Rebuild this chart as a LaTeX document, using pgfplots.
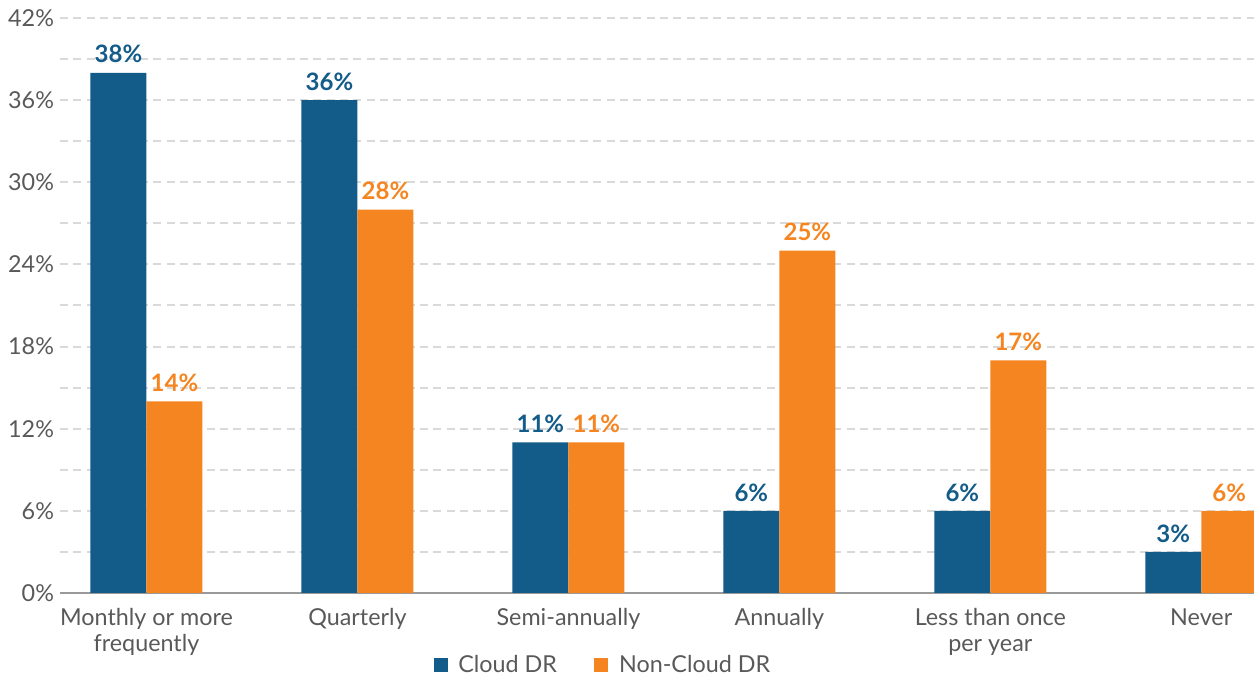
\documentclass[border=0pt]{standalone}
\usepackage{fontspec}
\setmainfont{Lato}
\usepackage{pgfplots}
\pgfplotsset{compat=1.18}
\definecolor{cloudblue}{HTML}{135B88}
\definecolor{noncloud}{HTML}{F58520}
\definecolor{txtgray}{HTML}{595959}
\definecolor{gridgray}{HTML}{D9D9D9}
\definecolor{basegray}{HTML}{999999}
\begin{document}
\begin{tikzpicture}
\begin{axis}[
  scale only axis, width=895.5pt, height=431.25pt,
  ybar=0pt, bar width=42pt,
  xmin=-0.41, xmax=5.25, ymin=0, ymax=42,
  xtick={0,...,5},
  xticklabels={{Monthly or more\\frequently},{Quarterly},{Semi-annually},{Annually},{Less than once\\per year},{Never}},
  ytick={0,6,...,42}, minor ytick={3,9,...,39},
  /pgf/number format/assume math mode=true,
  yticklabel={\pgfmathprintnumber{\tick}\%},
  ymajorgrids, yminorgrids,
  major grid style={gridgray, dash pattern=on 6pt off 4pt, line width=1.5pt},
  minor grid style={gridgray, dash pattern=on 6pt off 4pt, line width=1.5pt},
  extra y ticks={0}, extra y tick labels={},
  extra y tick style={grid=major, major grid style={solid, basegray, line width=1.5pt}},
  axis line style={draw=none},
  major tick length=0pt, minor tick length=0pt,
  tick label style={font=\fontsize{17.5}{19.5}\selectfont, text=txtgray},
  xticklabel style={align=center, yshift=-8pt},
  yticklabel style={xshift=-1pt},
  legend style={at={(0.455,-0.125)}, anchor=center, draw=none, fill=none,
    legend columns=2, font=\fontsize{17.5}{19.5}\selectfont, text=txtgray,
    /tikz/every odd column/.append style={column sep=6pt},
    /tikz/every even column/.append style={column sep=26pt}},
  legend image code/.code={\fill[#1] (0pt,-5.25pt) rectangle (10.5pt,5.25pt);},
  nodes near coords={\pgfmathprintnumber{\pgfplotspointmeta}\%},
  nodes near coords style={font=\bfseries\fontsize{18}{20}\selectfont, anchor=south, inner sep=4pt, yshift=3pt},
]
\addplot[fill=cloudblue, draw=none, every node near coord/.append style={text=cloudblue}]
  coordinates {(0,38) (1,36) (2,11) (3,6) (4,6) (5,3)};
\addplot[fill=noncloud, draw=none, every node near coord/.append style={text=noncloud}]
  coordinates {(0,14) (1,28) (2,11) (3,25) (4,17) (5,6)};
\legend{Cloud DR, Non-Cloud DR}
\coordinate (bl) at (rel axis cs:0,0);
\coordinate (tr) at (rel axis cs:1,1);
\end{axis}
\pgfresetboundingbox
\path[use as bounding box] ([shift={(-45pt,-63.75pt)}]bl) rectangle ([shift={(0pt,13.5pt)}]tr);
\end{tikzpicture}
\end{document}
